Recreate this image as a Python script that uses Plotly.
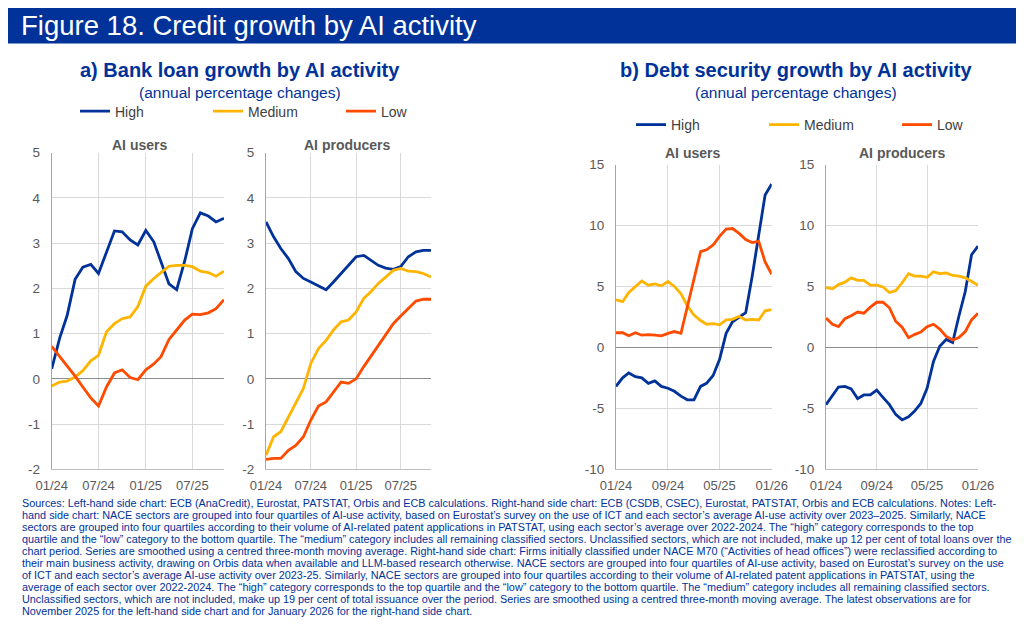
import plotly.graph_objects as go

# months shown in each panel
months_a = ["2024-01", "2024-02", "2024-03", "2024-04", "2024-05", "2024-06",
            "2024-07", "2024-08", "2024-09", "2024-10", "2024-11", "2024-12",
            "2025-01", "2025-02", "2025-03", "2025-04", "2025-05", "2025-06",
            "2025-07", "2025-08", "2025-09", "2025-10", "2025-11"]
months_b = months_a + ["2025-12", "2026-01"]

# a) bank loans, AI users
loan_users_high = [0.22, 0.9, 1.4, 2.2, 2.47, 2.53, 2.33, 2.8, 3.27, 3.25, 3.07, 2.96,
                   3.28, 3.03, 2.6, 2.1, 1.97, 2.6, 3.32, 3.67, 3.6, 3.47, 3.55]
loan_users_med = [-0.16, -0.07, -0.05, 0.04, 0.18, 0.4, 0.52, 1.04, 1.22, 1.33, 1.37, 1.6,
                  2.05, 2.22, 2.35, 2.49, 2.51, 2.51, 2.48, 2.38, 2.35, 2.27, 2.38]
loan_users_low = [0.72, 0.5, 0.29, 0.06, -0.18, -0.42, -0.6, -0.18, 0.13, 0.2, 0.03, -0.02,
                  0.2, 0.33, 0.49, 0.87, 1.08, 1.3, 1.43, 1.42, 1.46, 1.55, 1.75]
# a) bank loans, AI producers
loan_prod_high = [3.47, 3.14, 2.88, 2.66, 2.37, 2.22, 2.14, 2.05, 1.97, 2.14, 2.33, 2.51,
                  2.7, 2.73, 2.62, 2.51, 2.45, 2.42, 2.48, 2.7, 2.81, 2.84, 2.84]
loan_prod_med = [-1.69, -1.28, -1.17, -0.84, -0.55, -0.21, 0.34, 0.67, 0.85, 1.08, 1.26, 1.3,
                 1.48, 1.78, 1.92, 2.11, 2.25, 2.4, 2.44, 2.38, 2.37, 2.33, 2.25]
loan_prod_low = [-1.78, -1.76, -1.76, -1.58, -1.47, -1.28, -0.91, -0.6, -0.51, -0.29, -0.07, -0.1,
                 0.0, 0.27, 0.49, 0.72, 0.97, 1.22, 1.39, 1.55, 1.72, 1.76, 1.76]

# b) debt securities, AI users
debt_users_high = [-3.2, -2.5, -2.1, -2.4, -2.5, -2.95, -2.75, -3.2, -3.35, -3.6, -4.0, -4.3,
                   -4.3, -3.2, -2.95, -2.3, -1.0, 1.15, 2.1, 2.5, 2.85, 5.8, 9.1, 12.5, 13.4]
debt_users_med = [3.9, 3.75, 4.5, 5.0, 5.45, 5.1, 5.2, 5.05, 5.4, 5.0, 4.4, 3.4,
                  2.65, 2.2, 1.9, 1.95, 1.85, 2.25, 2.3, 2.55, 2.25, 2.3, 2.25, 3.0, 3.1]
debt_users_low = [1.2, 1.2, 0.95, 1.2, 1.0, 1.05, 1.0, 0.95, 1.15, 1.3, 1.15, 3.4,
                  5.6, 7.85, 8.0, 8.4, 9.1, 9.7, 9.75, 9.35, 8.85, 8.6, 8.7, 7.0, 6.0]
# b) debt securities, AI producers
debt_prod_high = [-4.7, -4.0, -3.25, -3.2, -3.4, -4.2, -3.9, -3.9, -3.5, -4.1, -4.7, -5.5,
                  -5.95, -5.7, -5.25, -4.6, -3.35, -1.15, 0.1, 0.65, 0.4, 2.55, 4.6, 7.6, 8.3]
debt_prod_med = [4.9, 4.8, 5.15, 5.35, 5.7, 5.5, 5.5, 5.1, 5.1, 4.95, 4.5, 4.65,
                 5.3, 6.05, 5.85, 5.85, 5.75, 6.2, 6.05, 6.1, 5.9, 5.85, 5.7, 5.4, 5.1]
debt_prod_low = [2.4, 1.9, 1.7, 2.35, 2.6, 2.9, 2.8, 3.3, 3.7, 3.7, 3.25, 2.15,
                 1.65, 0.8, 1.05, 1.25, 1.7, 1.9, 1.5, 0.9, 0.6, 0.8, 1.3, 2.25, 2.8]

series_names = ["High", "Medium", "Low"]
colors = ["#003299", "#ffb400", "#ff4b00"]

yticks_a = [-2, -1, 0, 1, 2, 3, 4, 5]
yticks_b = [-10, -5, 0, 5, 10, 15]

footnote_lines = [
    "Sources: Left-hand side chart: ECB (AnaCredit), Eurostat, PATSTAT, Orbis and ECB calculations. Right-hand side chart: ECB (CSDB, CSEC), Eurostat, PATSTAT, Orbis and ECB calculations. Notes: Left-",
    "hand side chart: NACE sectors are grouped into four quartiles of AI-use activity, based on Eurostat\u2019s survey on the use of ICT and each sector\u2019s average AI-use activity over 2023\u20132025. Similarly, NACE",
    "sectors are grouped into four quartiles according to their volume of AI-related patent applications in PATSTAT, using each sector\u2019s average over 2022-2024. The \u201chigh\u201d category corresponds to the top",
    "quartile and the \u201clow\u201d category to the bottom quartile. The \u201cmedium\u201d category includes all remaining classified sectors. Unclassified sectors, which are not included, make up 12 per cent of total loans over the",
    "chart period. Series are smoothed using a centred three-month moving average. Right-hand side chart: Firms initially classified under NACE M70 (\u201cActivities of head offices\u201d) were reclassified according to",
    "their main business activity, drawing on Orbis data when available and LLM-based research otherwise. NACE sectors are grouped into four quartiles of AI-use activity, based on Eurostat\u2019s survey on the use",
    "of ICT and each sector\u2019s average AI-use activity over 2023-25. Similarly, NACE sectors are grouped into four quartiles according to their volume of AI-related patent applications in PATSTAT, using the",
    "average of each sector over 2022-2024. The \u201chigh\u201d category corresponds to the top quartile and the \u201clow\u201d category to the bottom quartile. The \u201cmedium\u201d category includes all remaining classified sectors.",
    "Unclassified sectors, which are not included, make up 19 per cent of total issuance over the period. Series are smoothed using a centred three-month moving average. The latest observations are for",
    "November 2025 for the left-hand side chart and for January 2026 for the right-hand side chart.",
]

W, H = 1024, 628
OFF = 8  # the page body adds an 8px margin, so place things 8px up/left
FONT = "Liberation Sans, Arial, sans-serif"
ECB_BLUE = "#003299"
GREY = "#595959"


def px_x(v):
    return (v - OFF) / W


def px_y(v):
    return 1 - (v - OFF) / H


fig = go.Figure()

panels = [
    # (axis suffix, x values, [high, med, low], legend id, show legend)
    ("", months_a, [loan_users_high, loan_users_med, loan_users_low], "legend", True),
    ("2", months_a, [loan_prod_high, loan_prod_med, loan_prod_low], "legend", False),
    ("3", months_b, [debt_users_high, debt_users_med, debt_users_low], "legend2", True),
    ("4", months_b, [debt_prod_high, debt_prod_med, debt_prod_low], "legend2", False),
]

for suffix, xs, ys, leg, show in panels:
    for name, col, vals in zip(series_names, colors, ys):
        fig.add_trace(go.Scatter(
            x=xs, y=vals, name=name, mode="lines",
            line=dict(color=col, width=2.8),
            xaxis="x" + suffix, yaxis="y" + suffix,
            legend=leg, showlegend=show, hoverinfo="skip"))


# shared axis styling
def xaxis_style(dom, months, step, anchor):
    ticks = months[::step]
    if months[-1] not in ticks:
        ticks = ticks + [months[-1]]
    labels = [m[5:7] + "/" + m[2:4] for m in ticks]
    if ticks[-1] not in months[::step]:
        labels[-1] = ""  # gridline only, closes the plot on the right
    return dict(domain=dom, anchor=anchor, type="date", automargin=False,
                range=[months[0] + "-01", months[-1] + "-01"],
                tickvals=[t + "-01" for t in ticks], ticktext=labels,
                showgrid=True, gridcolor="#d9d9d9", gridwidth=1,
                showline=True, linecolor="#bfbfbf", linewidth=1,
                ticks="", tickfont=dict(size=13, color=GREY, family=FONT),
                ticklabelstandoff=4, fixedrange=True)


def yaxis_style(dom, tickvals, anchor):
    return dict(domain=dom, anchor=anchor, range=[tickvals[0], tickvals[-1]], automargin=False,
                tickvals=tickvals, ticktext=[str(v) for v in tickvals],
                showgrid=True, gridcolor="#d9d9d9", gridwidth=1,
                zeroline=True, zerolinecolor="#8c8c8c", zerolinewidth=1,
                showline=True, linecolor="#a6a6a6", linewidth=1,
                ticks="", tickfont=dict(size=13.5, color=GREY, family=FONT),
                ticklabelstandoff=8, fixedrange=True)


ya_dom = [px_y(469.3), px_y(152.7)]
yb_dom = [px_y(469.3), px_y(164.5)]

legend_font = dict(size=14, color="#404040", family=FONT)
fig.update_layout(
    width=W, height=H,
    margin=dict(l=0, r=0, t=0, b=0, pad=0),
    paper_bgcolor="white", plot_bgcolor="white",
    font=dict(family=FONT, color=GREY),
    xaxis=xaxis_style([px_x(51.7), px_x(224)], months_a, 6, "y"),
    xaxis2=xaxis_style([px_x(266), px_x(431)], months_a, 6, "y2"),
    xaxis3=xaxis_style([px_x(616), px_x(771.7)], months_b, 8, "y3"),
    xaxis4=xaxis_style([px_x(826), px_x(978)], months_b, 8, "y4"),
    yaxis=yaxis_style(ya_dom, yticks_a, "x"),
    yaxis2=yaxis_style(ya_dom, yticks_a, "x2"),
    yaxis3=yaxis_style(yb_dom, yticks_b, "x3"),
    yaxis4=yaxis_style(yb_dom, yticks_b, "x4"),
    legend=dict(orientation="h", x=px_x(75), y=px_y(111.5), xanchor="left", yanchor="middle",
                entrywidth=88, entrywidthmode="pixels", bgcolor="rgba(0,0,0,0)",
                font=legend_font, itemclick=False),
    legend2=dict(orientation="h", x=px_x(631), y=px_y(125), xanchor="left", yanchor="middle",
                 entrywidth=88, entrywidthmode="pixels", bgcolor="rgba(0,0,0,0)",
                 font=legend_font, itemclick=False),
    showlegend=True,
)

# title bar
fig.add_shape(type="rect", xref="paper", yref="paper", x0=0, x1=1, y0=px_y(43.5), y1=1,
              fillcolor=ECB_BLUE, line_width=0, layer="below")

ann = []
ann.append(dict(text="Figure 18. Credit growth by AI activity", x=px_x(19), y=1,
                xanchor="left", yanchor="top", font=dict(size=27.5, color="white", family=FONT)))
# panel titles
for cx, t in [(240, "a) Bank loan growth by AI activity"), (795.5, "b) Debt security growth by AI activity")]:
    ann.append(dict(text="<b>" + t + "</b>", x=px_x(cx), y=px_y(70), xanchor="center", yanchor="middle",
                    font=dict(size=20, color=ECB_BLUE, family=FONT)))
    ann.append(dict(text="(annual percentage changes)", x=px_x(cx), y=px_y(92.5), xanchor="center",
                    yanchor="middle", font=dict(size=15.5, color=ECB_BLUE, family=FONT)))
# subplot titles
for cx, cy, t in [(139, 145, "AI users"), (347, 145, "AI producers"),
                  (692, 153, "AI users"), (902, 153, "AI producers")]:
    ann.append(dict(text="<b>" + t + "</b>", x=px_x(cx), y=px_y(cy), xanchor="center", yanchor="middle",
                    font=dict(size=14, color=GREY, family=FONT)))
# footnote, one annotation per line
for i, line in enumerate(footnote_lines):
    ann.append(dict(text=line, x=px_x(20), y=px_y(502.7 + 12.0 * i), xanchor="left", yanchor="middle",
                    font=dict(size=10.85, color=ECB_BLUE, family=FONT)))

for a in ann:
    a.update(xref="paper", yref="paper", showarrow=False)
fig.update_layout(annotations=ann)

fig.write_html("out.html")
